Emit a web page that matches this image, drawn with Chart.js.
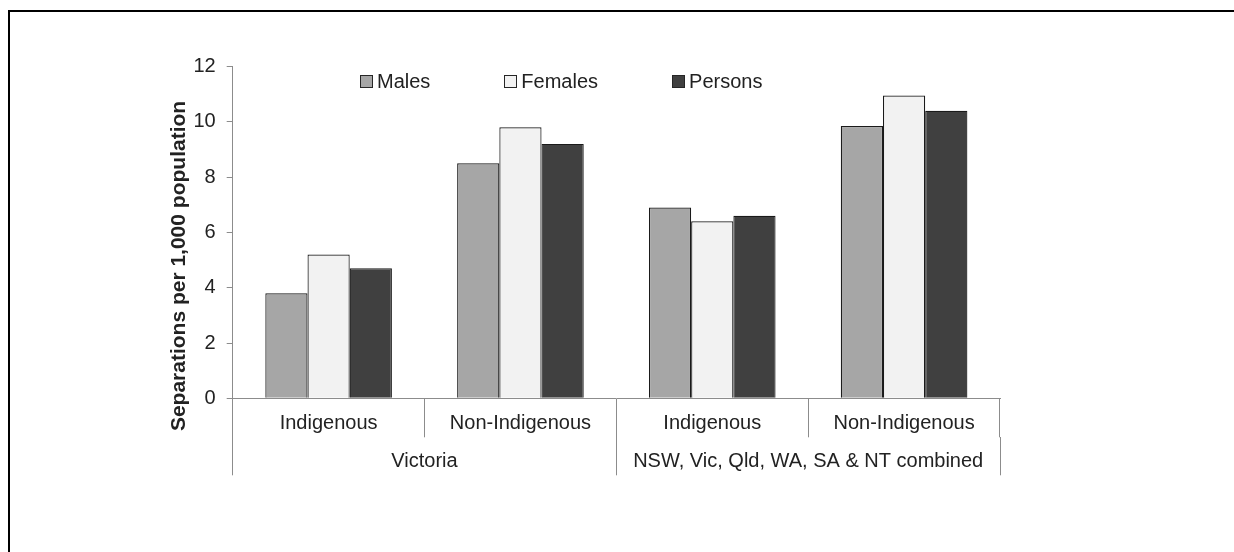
<!DOCTYPE html>
<html>
<head>
<meta charset="utf-8">
<script src="https://cdn.jsdelivr.net/npm/chart.js@4/dist/chart.umd.min.js"></script>
<style>
  html, body { margin: 0; padding: 0; background: #fff; }
  #wrap { position: relative; width: 1234px; height: 552px; overflow: hidden; }
  #frame { position: absolute; left: 8px; top: 10px; width: 1400px; height: 700px;
           border-top: 2px solid #000; border-left: 2px solid #000; pointer-events: none; }
  #legend { position: absolute; left: 360px; top: 69px; display: flex; gap: 74px;
            font-family: "Liberation Sans", Arial, sans-serif; font-size: 20px; color: #222; }
  .item { display: flex; align-items: center; gap: 4px; line-height: 24px; }
  .box { width: 11px; height: 11px; border: 1px solid #262626; box-sizing: content-box; }
</style>
</head>
<body>
<div id="wrap">
  <canvas id="c" width="1234" height="552"></canvas>
  <div id="frame"></div>
  <div id="legend"></div>
</div>
<script>
const categories = ["Indigenous", "Non-Indigenous", "Indigenous", "Non-Indigenous"];
const groupLabels = ["Victoria", "NSW, Vic, Qld, WA, SA & NT combined"];
const seriesNames = ["Males", "Females", "Persons"];
const males = [3.8, 8.5, 6.9, 9.85];
const females = [5.2, 9.8, 6.4, 10.95];
const persons = [4.7, 9.2, 6.6, 10.4];
const yTicks = [0, 2, 4, 6, 8, 10, 12];
const yTitle = "Separations per 1,000 population";

const colors = ["#a6a6a6", "#f2f2f2", "#404040"];
const values = [males, females, persons];
const FONT = "'Liberation Sans', Arial, sans-serif";
const TEXT = "#222";
const AXIS = "#8c8c8c";

const legendEl = document.getElementById("legend");
seriesNames.forEach((n, i) => {
  const it = document.createElement("div");
  it.className = "item";
  const b = document.createElement("span");
  b.className = "box";
  b.style.background = colors[i];
  const t = document.createElement("span");
  t.textContent = n;
  it.appendChild(b); it.appendChild(t);
  legendEl.appendChild(it);
});

new Chart(document.getElementById("c"), {
  type: "bar",
  data: {
    labels: categories,
    datasets: seriesNames.map((n, i) => ({
      label: n,
      data: values[i],
      backgroundColor: colors[i],
      borderColor: "#1a1a1a",
      borderWidth: 1.2,
      categoryPercentage: 0.66,
      barPercentage: 1.0
    }))
  },
  options: {
    responsive: false,
    animation: false,
    layout: { padding: { left: 166.4, right: 234, top: 57, bottom: 77 } },
    plugins: {
      legend: { display: false },
      tooltip: { enabled: false },
      subtitle: {
        display: true,
        position: "top",
        text: "",
        color: "rgba(0,0,0,0)",
        padding: { top: 8.5, bottom: 0 },
        font: { size: 1, lineHeight: 1 }
      },
      title: {
        display: true,
        position: "left",
        text: yTitle,
        color: TEXT,
        padding: 0,
        font: { family: FONT, size: 21, weight: "bold", lineHeight: 1.2 }
      }
    },
    scales: {
      y: {
        min: 0, max: 12,
        afterBuildTicks: (s) => { s.ticks = yTicks.map(v => ({ value: v })); },
        afterFit: (s) => { s.width = 41.1; },
        ticks: { color: TEXT, padding: 11, font: { family: FONT, size: 20 } },
        grid: { drawOnChartArea: false, drawTicks: true, tickLength: 6, color: AXIS, lineWidth: 1 },
        border: { display: true, color: AXIS, width: 1 }
      },
      x: {
        position: "bottom",
        offset: true,
        afterFit: (s) => { s.height = 39; },
        ticks: { color: TEXT, padding: -25.6, maxRotation: 0, autoSkip: false, font: { family: FONT, size: 20, lineHeight: 1.2 } },
        grid: { offset: true, drawOnChartArea: false, drawTicks: true, tickLength: 39, color: AXIS, lineWidth: 1 },
        border: { display: true, color: AXIS, width: 1 }
      },
      x2: {
        type: "category",
        position: "bottom",
        labels: groupLabels,
        offset: true,
        afterFit: (s) => { s.height = 37.7; },
        ticks: { color: TEXT, padding: -25.6, maxRotation: 0, autoSkip: false, font: { family: FONT, size: 20, lineHeight: 1.2 } },
        grid: { offset: true, drawOnChartArea: false, drawTicks: true, tickLength: 38, color: AXIS, lineWidth: 1 },
        border: { display: false }
      }
    }
  }
});
</script>
</body>
</html>
